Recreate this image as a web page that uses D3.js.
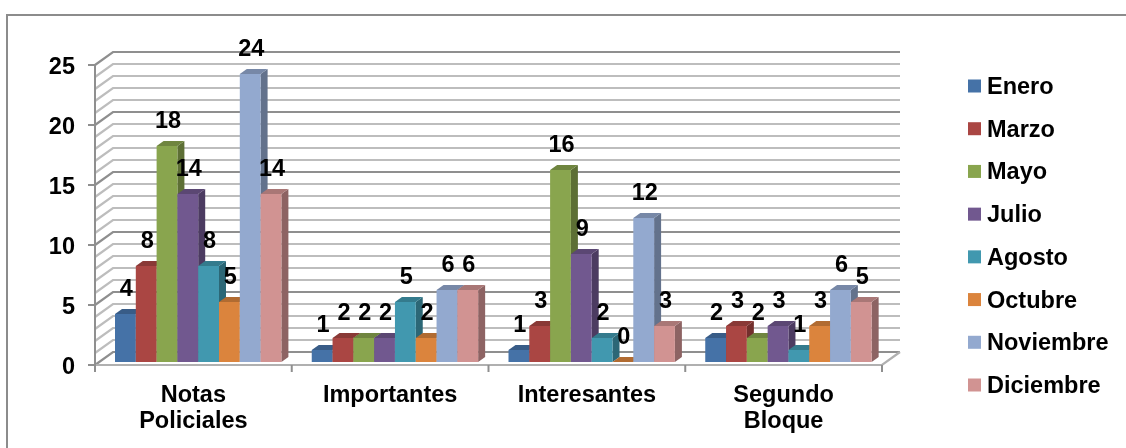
<!DOCTYPE html>
<html>
<head>
<meta charset="utf-8">
<script src="https://cdnjs.cloudflare.com/ajax/libs/d3/7.8.5/d3.min.js"></script>
<style>
  html, body { margin: 0; padding: 0; background: #fff; }
  svg { display: block; filter: blur(0.45px); }
  text { font-family: "Liberation Sans", Arial, sans-serif; font-weight: bold; fill: #000; }
</style>
</head>
<body>
<div id="chart"></div>
<script>
// Chart data
var categories = ["Notas Policiales", "Importantes", "Interesantes", "Segundo Bloque"];
var months = ["Enero", "Marzo", "Mayo", "Julio", "Agosto", "Octubre", "Noviembre", "Diciembre"];
var enero = [4, 1, 1, 2];
var marzo = [8, 2, 3, 3];
var mayo = [18, 2, 16, 2];
var julio = [14, 2, 9, 3];
var agosto = [8, 5, 2, 1];
var octubre = [5, 2, 0, 3];
var noviembre = [24, 6, 12, 6];
var diciembre = [14, 6, 3, 5];
var seriesValues = [enero, marzo, mayo, julio, agosto, octubre, noviembre, diciembre];
var colors = ["#4572a7", "#aa4643", "#89a54e", "#71588f", "#4198af", "#db843d", "#93a9cf", "#d19392"];
var yTicks = [0, 5, 10, 15, 20, 25];

var svgWidth = 1126;
var svgHeight = 448;
var fontSize = "23.5px";

// Depth of the back wall and of the bars
var wallX = 18, wallY = 13;
var barX = 7, barY = 5;

var svg = d3.select("#chart")
  .append("svg")
  .attr("width", svgWidth)
  .attr("height", svgHeight);

var xScale = d3.scaleBand()
  .domain(categories)
  .range([95, 882]);

var yScale = d3.scaleLinear()
  .domain([0, 25])
  .range([365, 65]);

// Outer border: the picture is cropped, only top and left show
svg.append("path")
  .attr("d", "M7,448V15H1126")
  .attr("fill", "none")
  .attr("stroke", "#8c8c8c")
  .attr("stroke-width", 2);

// Back wall grid and side wall
var gridValues = d3.range(0, 26);
var grid = svg.append("g");

grid.selectAll(".grid")
  .data(gridValues)
  .enter()
  .append("path")
  .attr("class", "grid")
  .attr("d", function(d) {
    var y = yScale(d);
    return "M95," + y + "L" + (95 + wallX) + "," + (y - wallY) + "H" + (882 + wallX);
  })
  .attr("fill", "none")
  .attr("stroke", function(d) { return d % 5 == 0 ? "#8f8f8f" : "#bdbdbd"; })
  .attr("stroke-width", 2.2);

// Floor right edge and front edge
grid.append("path")
  .attr("d", "M95,365H882L900,352")
  .attr("fill", "none")
  .attr("stroke", "#b0b0b0")
  .attr("stroke-width", 2.2);

grid.append("path")
  .attr("d", "M95,65V365")
  .attr("fill", "none")
  .attr("stroke", "#8f8f8f")
  .attr("stroke-width", 2);

// Axis ticks
grid.selectAll(".ytick")
  .data(yTicks)
  .enter()
  .append("line")
  .attr("class", "ytick")
  .attr("x1", 88)
  .attr("x2", 95)
  .attr("y1", d => yScale(d))
  .attr("y2", d => yScale(d))
  .attr("stroke", "#8f8f8f")
  .attr("stroke-width", 2);

grid.selectAll(".xtick")
  .data(d3.range(0, 5))
  .enter()
  .append("line")
  .attr("class", "xtick")
  .attr("x1", d => 95 + d * xScale.bandwidth())
  .attr("x2", d => 95 + d * xScale.bandwidth())
  .attr("y1", 365)
  .attr("y2", 372)
  .attr("stroke", "#8f8f8f")
  .attr("stroke-width", 2);

svg.selectAll(".ylabel")
  .data(yTicks)
  .enter()
  .append("text")
  .attr("class", "ylabel")
  .attr("x", 75)
  .attr("y", d => yScale(d) + 8.5)
  .attr("text-anchor", "end")
  .style("font-size", fontSize)
  .text(d => d);

// Bars: base sits a little in front of the back wall
var barWidth = 20.8;
var barBase = 3;

function barLeft(catIndex, seriesIndex) {
  return xScale(categories[catIndex]) + 20 + seriesIndex * barWidth;
}

function shade(color, k) {
  return d3.color(color).darker(k).formatHex();
}

// Draw bars left to right so each side face is covered by its neighbour
categories.forEach(function(cat, c) {
  var group = svg.append("g").attr("class", "cat");
  seriesValues.forEach(function(values, s) {
    var x = barLeft(c, s);
    var top = yScale(values[c]) - barBase;
    var bottom = yScale(0) - barBase;
    var color = colors[s];

    // side face
    group.append("path")
      .attr("d", `M${x + barWidth},${top}L${x + barWidth + barX},${top - barY}V${bottom - barY}L${x + barWidth},${bottom}Z`)
      .attr("fill", shade(color, 1.1));
    // top face
    group.append("path")
      .attr("d", `M${x},${top}L${x + barX},${top - barY}H${x + barWidth + barX}L${x + barWidth},${top}Z`)
      .attr("fill", shade(color, 0.6));
    // front face
    group.append("rect")
      .attr("x", x)
      .attr("y", top)
      .attr("width", barWidth)
      .attr("height", bottom - top)
      .attr("fill", color);
  });
});

// Value labels above the bars
seriesValues.forEach(function(values, s) {
  svg.selectAll(".val" + s)
    .data(values)
    .enter()
    .append("text")
    .attr("class", "val" + s)
    .attr("x", (d, c) => barLeft(c, s) + barWidth / 2 + 1)
    .attr("y", d => yScale(d) - 3 - 18)
    .attr("text-anchor", "middle")
    .style("font-size", fontSize)
    .text(d => d);
});

// Category labels, wrapped to two lines
svg.selectAll(".cat-label")
  .data(categories)
  .enter()
  .append("text")
  .attr("class", "cat-label")
  .attr("text-anchor", "middle")
  .style("font-size", fontSize)
  .each(function(d) {
    var words = d == "Notas Policiales" || d == "Segundo Bloque" ? d.split(" ") : [d];
    var cx = xScale(d) + xScale.bandwidth() / 2;
    d3.select(this).selectAll("tspan")
      .data(words)
      .enter()
      .append("tspan")
      .attr("x", cx)
      .attr("y", (w, i) => 402 + i * 26)
      .text(w => w);
  });

// Legend
var legendY = d3.scaleLinear().domain([0, 7]).range([86, 385]);

svg.selectAll(".legend-box")
  .data(months)
  .enter()
  .append("rect")
  .attr("class", "legend-box")
  .attr("x", 968)
  .attr("y", (d, i) => legendY(i) - 6.5)
  .attr("width", 13)
  .attr("height", 13)
  .attr("fill", (d, i) => colors[i]);

svg.selectAll(".legend-text")
  .data(months)
  .enter()
  .append("text")
  .attr("class", "legend-text")
  .attr("x", 987)
  .attr("y", (d, i) => legendY(i) + 8)
  .style("font-size", fontSize)
  .text(d => d);
</script>
</body>
</html>
